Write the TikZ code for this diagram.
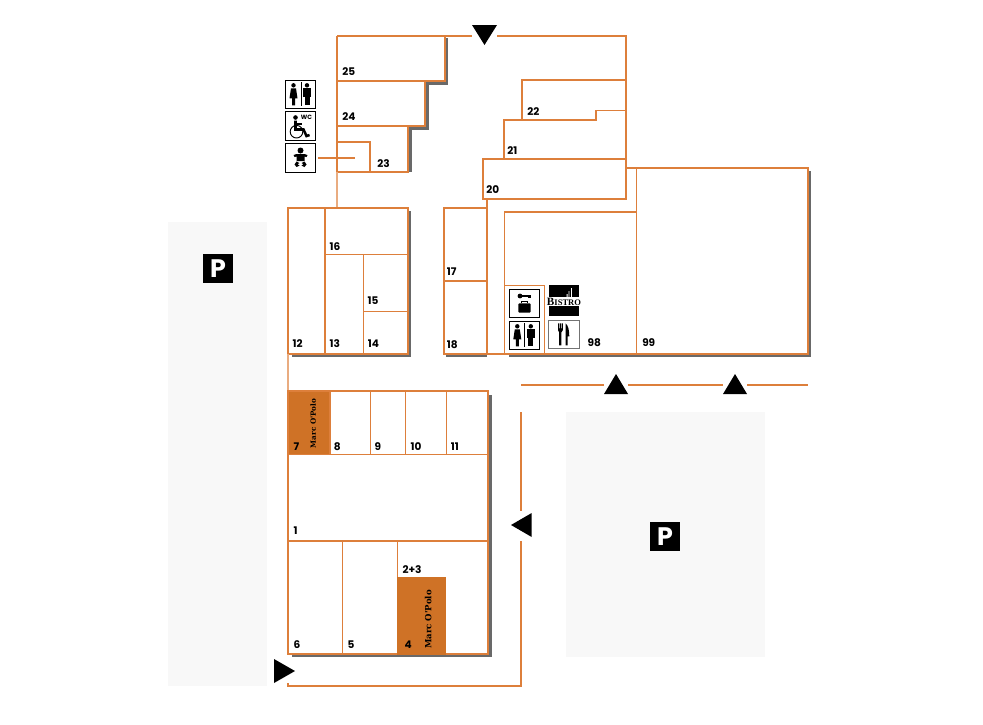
\documentclass[tikz,border=0pt]{standalone}
\usepackage{fontspec}
\setmainfont{Poppins}
\newfontfamily\marcfont{DejaVu Serif}
\newfontfamily\bistrofont{Liberation Serif}
\usepackage{tikz}
\usetikzlibrary{calc}
\usetikzlibrary{positioning}

\definecolor{wallcol}{HTML}{DD7F3B}
\definecolor{shopcol}{HTML}{CF7226}
\definecolor{parkcol}{HTML}{F8F8F8}
\definecolor{shadowcol}{HTML}{696969}

\tikzset{
  wall/.style={draw=wallcol,line width=1.1pt,line join=miter},
  wallpale/.style={draw=wallcol!65,line width=1pt},
  shadowline/.style={draw=shadowcol,line width=2.5pt},
  parking/.style={fill=parkcol,draw=none},
  shopno/.style={anchor=west,inner sep=0pt,font=\fontsize{7.9}{8}\selectfont\bfseries},
  marc/.style={rotate=90,inner sep=0pt,text=black},
  entry/.style={fill=black,draw=none},
  pbadge/.style={fill=black,text=white,inner sep=0pt,minimum size=22pt,font=\fontsize{19}{19}\selectfont\bfseries},
  iconbox/.style={draw=black,line width=0.6pt,fill=white,inner sep=0pt,minimum width=22.6pt,minimum height=21.4pt},
  toilets/.pic={
    \fill (-7,-9) circle (2.2);
    \fill (-9.5,-6) -- (-4.5,-6) -- (-3,4) -- (-5.5,4) -- (-5.5,11) -- (-8.5,11) -- (-8.5,4) -- (-11,4) -- cycle;
    \fill (6.5,-9) circle (2.2);
    \fill (2.5,-6) rectangle (10.5,3);
    \fill (4,3) rectangle (9,11);
    \draw[line width=0.6pt] (0.5,-12) -- (0.5,12);
  },
  wheelchair/.pic={
    \fill (-5,-8.5) circle (2.3);
    \draw[line width=0.7pt] (-4,5.7) circle (6.3);
    \draw[line width=1.9pt] (-5,-5.5) -- (-5,3.5) -- (3,3.5) -- (6,10) -- (9,9);
    \draw[line width=1.3pt] (-5,-2) -- (1,-2);
    \node[inner sep=0pt,font=\fontsize{4.6}{5}\selectfont\bfseries] (wclabel) at (6,-8.3) {WC};
  },
  babyicon/.pic={
    \fill (0,-7.5) circle (3);
    \fill (-7,-3) -- (-4,-4) -- (4,-4) -- (7,-3) -- (6,-1) -- (4,-1.5) -- (4,3) -- (-4,3) -- (-4,-1.5) -- (-6,-1) -- cycle;
    \fill (-1,5) -- (-4,3.5) -- (-6,6.5) -- (-4,9) -- (-1,7.5) -- (-3,6.2) -- cycle;
    \fill (1,5) -- (4,3.5) -- (6,6.5) -- (4,9) -- (1,7.5) -- (3,6.2) -- cycle;
  },
  keybag/.pic={
    \fill (-4.3,-7.3) circle (2.4);
    \fill (-4.3,-8) rectangle (6.4,-6.4);
    \fill (4,-6.4) rectangle (6.4,-5);
    \fill[rounded corners=0.8] (-6,0) rectangle (6.4,9.4);
    \draw[line width=0.9pt] (-2.5,0) -- (-2.5,-2.2) -- (3,-2.2) -- (3,0);
  },
  cutlery/.pic={
    \fill (-6,-11) -- (-5,-11) -- (-5,-6) -- (-4.2,-6) -- (-4.2,-11) -- (-3.2,-11) -- (-3.2,-6) -- (-2.4,-6) -- (-2.4,-11) -- (-1.2,-11) -- (-1.2,-4) -- (-2.6,-2) -- (-2.6,11) -- (-4.8,11) -- (-4.8,-2) -- (-6,-4) -- cycle;
    \fill (1.5,-11) .. controls (4.5,-9) and (5.3,-3) .. (5.3,2) -- (3.6,2) -- (3.6,11) -- (1.5,11) -- cycle;
  },
}

\begin{document}
\begin{tikzpicture}[x=0.75pt,y=-0.75pt]

  \useasboundingbox (0,0) rectangle (983,725);

  % car parks
  \path [parking] (168,222) rectangle (267,686);
  \path [parking] (566,412) rectangle (765,657);
  \node [pbadge] (parkleft) at (218,268.5) {P};
  \node [pbadge] (parkright) at (665,536.5) {P};

  % shadows
  \path [shadowline] (446.5,38) -- (446.5,83) -- (427,83) -- (427,128) -- (410,128) -- (410,172);
  \path [shadowline] (409.6,211) -- (409.6,355.6) -- (292,355.6);
  \path [shadowline] (446,355.6) -- (487,355.6);
  \path [shadowline] (809,171) -- (809,355.6) -- (509,355.6);
  \path [shadowline] (490,395) -- (490,655.6) -- (292,655.6);

  % Marc O'Polo shops
  \path [fill=shopcol] (288,391) rectangle (330,455);

  % top block
  \path [wall]
    (337,36) -- (472,36)
    (497,36) -- (626,36) -- (626,200)
    (337,36) -- (337,172)
    (445,36) -- (445,81) -- (337,81)
    (425,81) -- (425,126) -- (337,126)
    (408,126) -- (408,172) -- (337,172)
    (337,142) -- (370,142) -- (370,172);
  \path [wallpale] (337,172) -- (337,208);

  % right block
  \path [wall]
    (626,80) -- (522,80) -- (522,120)
    (626,110.5) -- (596,110.5) -- (596,120) -- (504,120) -- (504,159)
    (626,159) -- (483,159) -- (483,199) -- (626,199)
    (626,168) -- (808,168) -- (808,354) -- (487,354)
    (636.5,168) -- (636.5,354)
    (636.5,212) -- (504.5,212) -- (504.5,354)
    (504.5,285.7) -- (544.3,285.7) -- (544.3,354);

  % middle blocks
  \path [wall]
    (288,208) rectangle (408,354)
    (325,208) -- (325,354)
    (325,254.5) -- (408,254.5)
    (363.3,254.5) -- (363.3,354)
    (363.3,311.7) -- (408,311.7)
    (444,208) rectangle (487,354)
    (444,281) -- (487,281)
    (487,199) -- (487,208);
  \path [wallpale] (288,354) -- (288,391);

  % lower block
  \path [wall]
    (288,391) rectangle (488,654)
    (330,391) -- (330,454.5)
    (370.7,391) -- (370.7,454.5)
    (405.7,391) -- (405.7,454.5)
    (446.7,391) -- (446.7,454.5)
    (288,454.5) -- (488,454.5)
    (288,541) -- (488,541)
    (342.7,541) -- (342.7,654)
    (397.7,541) -- (397.7,577);
  \path [fill=shopcol] (397.2,577) rectangle (446,654.5);

  % access road
  \path [wall]
    (288,683) -- (288,686) -- (521,686) -- (521,541)
    (521,510.5) -- (521,412)
    (521,385) -- (604,385)
    (628,385) -- (723,385)
    (747,385) -- (808,385);

  % entrances
  \path [entry] (472,25) -- (497,25) -- (484.5,45) -- cycle;
  \path [entry] (604,394) -- (628,394) -- (616,374) -- cycle;
  \path [entry] (723,394) -- (747,394) -- (735,374) -- cycle;
  \path [entry] (511,525) -- (531.7,513) -- (531.7,537) -- cycle;
  \path [entry] (274,659) -- (274,683) -- (295,671) -- cycle;

  % shop numbers
  \foreach \shop/\px/\py in {25/342/72,24/342/117,23/377/164,22/527/112,21/507/151,20/486/190,
      16/329.3/247,12/292.3/344,13/329.3/344,14/367.7/344,15/367.3/301,17/446.7/272,18/446.7/345,
      98/587.3/343,99/642/343,7/293.3/447,8/333.7/447,9/374.3/447,10/410.3/447,11/450.7/447,
      1/293.3/531,4/404.3/645,5/347.3/645,6/293.3/645}
    \node [shopno] (no\shop) at (\px,\py) {\shop};
  \node [shopno] (nolast) at (402.3,570) {2+3};

  \node [marc,font=\marcfont\fontsize{5.4}{6}\selectfont\bfseries] (marcupper) at (313.3,423.5) {Marc O'Polo};
  \node [marc,font=\marcfont\fontsize{6.4}{7}\selectfont\bfseries] (marclower) at (428.3,619.5) {Marc O'Polo};

  % service icons
  \node [iconbox] (wcleft) at (300.5,94.3) {};
  \node [iconbox] (wcdisabled) at (300.5,126) {};
  \node [iconbox] (baby) at (300.5,158) {};
  \node [iconbox] (luggage) at (524.3,303.3) {};
  \node [iconbox] (wcright) at (524.3,335.3) {};
  \node [iconbox,draw=black!55,line width=0.8pt] (food) at (564,334.3) {};
  \pic at (wcleft) {toilets};
  \pic at (wcdisabled) {wheelchair};
  \pic at (baby) {babyicon};
  \pic at (luggage) {keybag};
  \pic at (wcright) {toilets};
  \pic at (food) {cutlery};

  \coordinate (babyout) at (318,158);
  \coordinate (babyroom) at (355,158);
  \path [wall,line width=0.8pt] (babyout) -- (babyroom);

  % bistro sign
  \node [fill=black,inner sep=0pt,minimum width=23pt,minimum height=22.8pt] (bistro) at (564,300.5) {};
  \node [fill=white,inner sep=0pt,minimum width=23pt,minimum height=6.6pt,font=\bistrofont\bfseries] (bistroname) at (564,301.7)
    {\fontsize{8.4}{8}\selectfont B\fontsize{6.4}{8}\selectfont ISTRO};
  \path [fill=white] (568.5,291) rectangle (569.3,297) (571,288) rectangle (571.8,297) (566.5,294) rectangle (567.5,297);

\end{tikzpicture}
\end{document}
